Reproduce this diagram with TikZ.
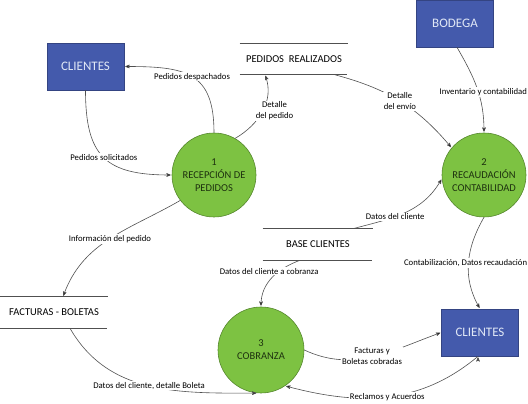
\documentclass[tikz,border=0pt]{standalone}
\usepackage{fontspec}
\setmainfont{Carlito}
\usetikzlibrary{arrows}

\definecolor{entblue}{RGB}{68,90,172}
\definecolor{entline}{RGB}{52,68,130}
\definecolor{entfont}{RGB}{225,232,246}
\definecolor{procgreen}{RGB}{125,194,66}
\definecolor{procline}{RGB}{85,135,45}
\definecolor{proctext}{RGB}{30,50,15}
\definecolor{flowgray}{RGB}{80,80,80}

\begin{document}
\begin{tikzpicture}[x=1pt,y=1pt,->,>=stealth',shorten >=1pt,semithick]
  \tikzstyle{entity}=[rectangle,fill=entblue,draw=entline,text=entfont,minimum width=77pt,minimum height=47pt,font=\fontsize{13}{15}\selectfont]
  \tikzstyle{proc}=[circle,fill=procgreen,draw=procline,text=proctext,minimum size=84pt,inner sep=0pt,align=center,font=\fontsize{10.5}{13}\selectfont]
  \tikzstyle{store}=[rectangle,minimum width=108pt,minimum height=31pt,font=\fontsize{10.5}{12}\selectfont]
  \tikzstyle{lbl}=[fill=white,inner sep=1pt,align=center,text=black,font=\fontsize{8.7}{11}\selectfont]

  \useasboundingbox (0,0) rectangle (528,404);

  \node[entity] (cli1) at (85.5,337.5) {CLIENTES};
  \node[entity] (bod)  at (455,380.5)  {BODEGA};
  \node[entity] (cli2) at (480,71.5)   {CLIENTES};

  \node[proc] (p1) at (214,229) {1\\RECEPCIÓN DE\\PEDIDOS};
  \node[proc] (p2) [right of=p1, node distance=270pt] {2\\RECAUDACIÓN\\CONTABILIDAD};
  \node[proc,minimum size=86pt] (p3) at (261,54) {3\\COBRANZA};

  \node[store] (ped)  at (294,345)   {PEDIDOS\ \ REALIZADOS};
  \node[store,minimum width=110pt] (base) at (318,159.5) {BASE CLIENTES};
  \node[store] (fact) at (54,91.5)   {FACTURAS - BOLETAS};

  \foreach \s in {ped,base,fact}
    \draw[-,flowgray] (\s.north west) -- (\s.north east) (\s.south west) -- (\s.south east);

  \path[draw=flowgray]
    (p1.north) edge [out=90,in=0,looseness=1.4] node[lbl,pos=.5] {Pedidos despachados} (cli1.east)
    (cli1.south) edge [out=-90,in=180,looseness=1.4] node[lbl,pos=.5] {Pedidos solicitados} (p1.west)
    (p1.60) edge [out=30,in=-70] node[lbl,pos=.5,xshift=12pt] {Detalle\\del pedido} ([xshift=-29pt]ped.south)
    ([xshift=41pt]ped.south) edge [out=-15,in=130] node[lbl,pos=.5] {Detalle\\del envío} (p2.140)
    ([xshift=2pt]bod.south) edge [out=-60,in=90] node[lbl,pos=.55,xshift=5pt] {Inventario y contabilidad} (p2.north)
    ([xshift=35pt]base.north) edge [out=15,in=-120] node[lbl,pos=.4] {Datos del cliente} (p2.185)
    (p2.south) edge [out=-120,in=120] node[lbl,pos=.5,xshift=-3pt] {Contabilización, Datos recaudación} (cli2.north)
    ([xshift=-18pt]base.south) edge [out=-160,in=90] node[lbl,pos=.35,xshift=-10pt] {Datos del cliente a cobranza} (p3.north)
    (p1.217) edge [out=-150,in=70] node[lbl,pos=.5] {Información del pedido} ([xshift=9pt]fact.north)
    ([xshift=16pt]fact.south) edge [out=-60,in=180] node[lbl,pos=.5] {Datos del cliente, detalle Boleta} (p3.265)
    (p3.east) edge [out=-25,in=200] node[lbl,pos=.5] {Facturas y\\Boletas cobradas} (cli2.west)
    ([xshift=-2pt]cli2.south) edge [out=-140,in=-15] node[lbl,pos=.5] {Reclamos y Acuerdos} (p3.-56);
\end{tikzpicture}
\end{document}
